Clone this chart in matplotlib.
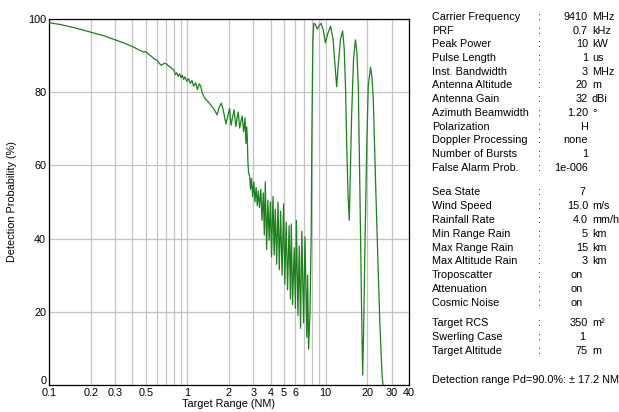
import matplotlib
matplotlib.use("Agg")
import matplotlib.pyplot as plt
import matplotlib.transforms as mtransforms

# Detection probability curve (range in NM, Pd in %)
range_nm = [
    0.10, 0.12, 0.15, 0.20, 0.25, 0.30, 0.35, 0.40, 0.45, 0.48, 0.50, 0.52,
    0.55, 0.58, 0.60, 0.63, 0.65, 0.68, 0.70, 0.73, 0.76, 0.78, 0.80, 0.82,
    0.84, 0.86, 0.88, 0.90, 0.92, 0.94, 0.96, 0.99, 1.02, 1.05, 1.08, 1.11,
    1.15, 1.18, 1.22, 1.25, 1.28, 1.34, 1.42, 1.50, 1.58, 1.64, 1.70, 1.76,
    1.82, 1.90, 1.96, 2.02, 2.07, 2.13, 2.18, 2.24, 2.29, 2.33, 2.39, 2.44,
    2.49, 2.55, 2.58, 2.61, 2.65, 2.68, 2.71, 2.74, 2.77,
    2.82, 2.86, 2.91, 2.96, 3.02, 3.08, 3.14, 3.20, 3.26, 3.32, 3.40, 3.46,
    3.54, 3.60, 3.66, 3.74, 3.82, 3.90, 3.98, 4.06, 4.16, 4.24, 4.32, 4.42,
    4.52, 4.62, 4.72, 4.84, 4.96, 5.06, 5.18, 5.30, 5.44, 5.56, 5.64, 5.76,
    5.92, 6.04, 6.14, 6.30, 6.44, 6.58, 6.72, 6.92, 7.08, 7.30, 7.40, 7.52,
    7.70, 7.85, 7.95, 8.08, 8.20, 8.40, 8.70, 9.00, 9.25, 9.60, 9.95, 10.35,
    10.85, 11.3, 11.7, 12.0, 12.3, 12.8, 13.25, 13.6, 13.9, 14.2, 14.5, 14.8,
    15.0, 15.4, 15.9, 16.4, 16.8, 17.2, 17.7, 18.2, 18.5, 18.8, 19.2, 19.8,
    20.3, 21.1, 21.6, 22.06, 23.3, 24.6, 25.6, 26.0,
]
pd_pct = [
    99.0, 98.5, 97.7, 96.4, 95.4, 94.3, 93.4, 92.5, 91.5, 91.0, 91.1, 90.5,
    89.8, 89.0, 88.8, 87.8, 87.3, 87.9, 87.8, 87.2, 86.8, 86.3, 86.0, 84.8,
    85.3, 84.3, 85.0, 84.0, 84.6, 83.5, 84.2, 83.0, 83.7, 82.4, 83.2, 81.6,
    82.6, 80.7, 82.3, 81.6, 79.8, 78.3, 77.3, 76.2, 75.0, 73.8, 76.0, 77.0,
    75.0, 71.3, 73.5, 75.6, 71.0, 73.5, 75.2, 70.6, 73.0, 74.6, 70.2, 72.0,
    73.5, 69.2, 71.0, 73.0, 66.0, 70.5, 68.0, 61.0, 58.0,
    57.0, 53.5, 56.5, 51.5, 55.5, 50.0, 54.0, 49.0, 53.0, 48.5, 53.5, 45.0,
    52.5, 41.0, 55.5, 37.0, 50.5, 39.5, 50.0, 35.0, 51.5, 35.5, 48.0, 33.0,
    50.0, 31.5, 47.5, 30.0, 49.5, 27.5, 44.5, 26.0, 43.5, 23.5, 44.0, 22.0,
    37.5, 21.0, 45.0, 19.0, 38.0, 15.5, 42.0, 17.0, 40.5, 13.0, 30.0, 9.8,
    20.0, 40.0, 70.0, 94.0, 98.8, 98.6, 97.2, 98.3, 98.8, 97.0, 93.5, 96.0,
    98.0, 94.5, 87.0, 81.5, 87.0, 94.5, 96.7, 92.0, 81.7, 65.0, 52.0, 45.0,
    55.0, 73.8, 89.3, 94.3, 91.0, 81.7, 51.0, 19.0, 2.7, 15.0, 37.4, 64.8,
    81.7, 86.8, 84.0, 78.4, 46.4, 17.3, 2.0, 0.0,
]

# Axis ticks
grid_x = [0.1, 0.2, 0.3, 0.4, 0.5, 0.6, 0.7, 0.8, 0.9,
          1, 2, 3, 4, 5, 6, 7, 8, 9, 10, 20, 30, 40]
labelled_x = {0.1: "0.1", 0.2: "0.2", 0.3: "0.3", 0.5: "0.5", 1: "1", 2: "2",
              3: "3", 4: "4", 5: "5", 6: "6", 10: "10", 20: "20", 30: "30", 40: "40"}
y_ticks = [0, 20, 40, 60, 80, 100]

# Parameter table on the right
param_labels = [
    "Carrier Frequency", "PRF", "Peak Power", "Pulse Length", "Inst. Bandwidth",
    "Antenna Altitude", "Antenna Gain", "Azimuth Beamwidth", "Polarization",
    "Doppler Processing", "Number of Bursts", "False Alarm Prob.",
    "Sea State", "Wind Speed", "Rainfall Rate", "Min Range Rain",
    "Max Range Rain", "Max Altitude Rain", "Troposcatter", "Attenuation",
    "Cosmic Noise",
    "Target RCS", "Swerling Case", "Target Altitude",
]
param_values = [
    "9410", "0.7", "10", "1", "3", "20", "32", "1.20", "H", "none", "1", "1e-006",
    "7", "15.0", "4.0", "5", "15", "3", "on", "on", "on",
    "350", "1", "75",
]
param_units = [
    "MHz", "kHz", "kW", "us", "MHz", "m", "dBi", "°", "", "", "", "",
    "", "m/s", "mm/hr", "km", "km", "km", "", "", "",
    "m²", "", "m",
]
footer = "Detection range Pd=90.0%: \u00b1 17.2 NM"

W, H = 619, 412
plt.rcParams["font.family"] = ["Liberation Sans", "DejaVu Sans"]
fs = 7.8

fig = plt.figure(figsize=(W / 100, H / 100), dpi=100)
ax = fig.add_axes([49 / W, (H - 385) / H, 360 / W, 366 / H])

ax.plot(range_nm, pd_pct, color="#1d7f1d", linewidth=0.9, zorder=3)

ax.set_xscale("log")
ax.set_xlim(0.1, 40)
ax.set_ylim(0, 100)
ax.set_xticks(grid_x)
ax.set_xticklabels([labelled_x.get(v, "") for v in grid_x], fontsize=fs)
ax.xaxis.set_minor_locator(matplotlib.ticker.NullLocator())
ax.set_yticks(y_ticks)
ax.set_yticklabels([str(v) for v in y_ticks], fontsize=fs)
ax.tick_params(length=0, pad=2)
# lift the "0" label a little so it clears "0.1"
zero_lbl = ax.get_yticklabels()[0]
zero_lbl.set_transform(zero_lbl.get_transform() +
                       mtransforms.ScaledTranslation(0, 5 / 100, fig.dpi_scale_trans))
ax.grid(True, color="#c4c4c4", linewidth=0.9)
for s in ax.spines.values():
    s.set_color("black")
    s.set_linewidth(0.9)
ax.set_xlabel("Target Range (NM)", fontsize=fs, labelpad=1)
ax.set_ylabel("Detection Probability (%)", fontsize=fs, labelpad=8)

# Right-hand parameter block (pixel positions)
def px(x, y):
    return x / W, 1 - y / H

row_y = []
y = 17
for i in range(len(param_labels)):
    if i == 12:
        y += 11
    if i == 21:
        y += 6.5
    row_y.append(y)
    y += 13.7 if i < 12 else 13.8

for lab, val, unit, yy in zip(param_labels, param_values, param_units, row_y):
    fig.text(*px(432, yy), lab, fontsize=fs, ha="left", va="center")
    fig.text(*px(538, yy), ":", fontsize=fs, ha="left", va="center")
    vx = 588
    if val == "on":
        vx = 583
    elif lab in ("Sea State", "Swerling Case"):
        vx = 585
    fig.text(*px(vx, yy), val, fontsize=fs, ha="right", va="center")
    if unit:
        fig.text(*px(592, yy), unit, fontsize=fs, ha="left", va="center")

fig.text(*px(432, 380), footer, fontsize=fs, ha="left", va="center")

fig.savefig("out.png", dpi=100)
